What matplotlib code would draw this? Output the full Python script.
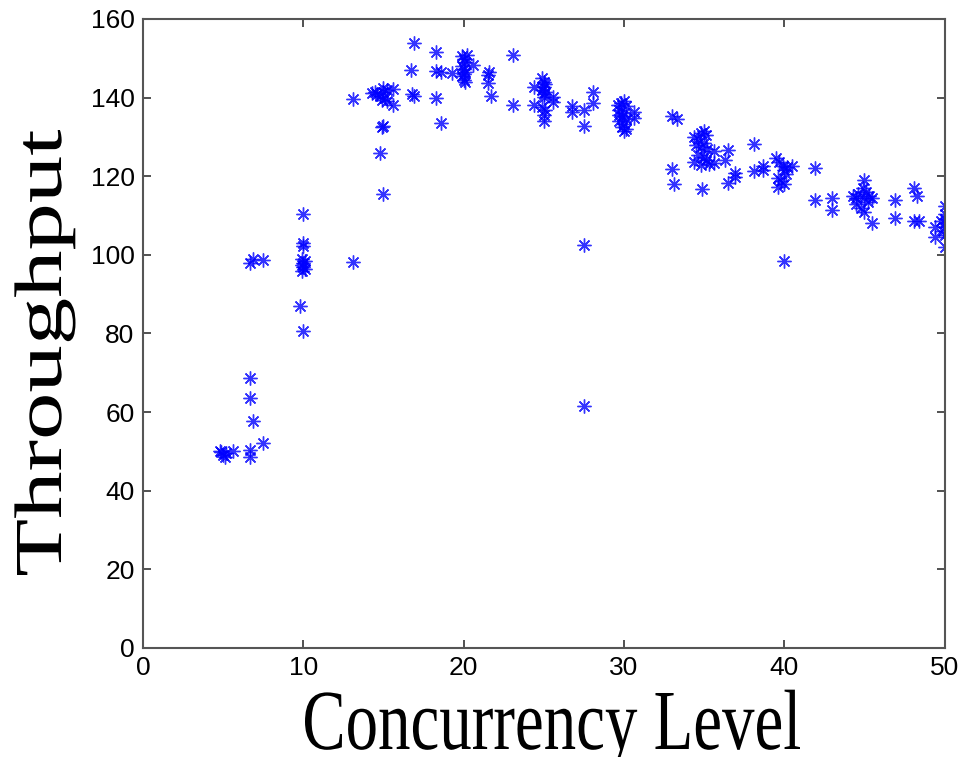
import matplotlib
matplotlib.use("Agg")
import matplotlib.pyplot as plt
from matplotlib.textpath import TextPath
from matplotlib.patches import PathPatch
from matplotlib.font_manager import FontProperties
from matplotlib.transforms import Affine2D

# Concurrency level / throughput samples
concurrency = [
    4.9, 5.0, 5.1, 5.2, 4.8, 5.6,
    6.7, 6.85, 6.7, 6.7, 6.85, 6.7, 6.7,
    7.5, 7.5,
    10.0, 10.0, 10.0, 9.9, 10.1, 9.9, 10.0, 10.1, 9.9, 10.0, 9.8, 10.0,
    13.1, 13.1,
    14.3, 14.6, 14.8, 15.0, 15.1, 14.9, 15.0, 15.2, 15.6, 15.6, 14.9, 15.0, 14.8, 15.0, 14.5, 15.2,
    16.9, 16.7, 16.8, 16.9,
    18.3, 18.3, 18.6, 18.3, 18.6,
    19.3,
    19.9, 20.0, 20.1, 19.9, 20.0, 20.1, 19.9, 20.0, 20.2, 20.0, 20.1,
    20.6,
    21.6, 21.5, 21.5, 21.7,
    23.1, 23.1,
    24.4, 24.4,
    24.9, 25.0, 25.1, 25.0, 24.9, 25.1, 25.0, 25.0, 24.9, 25.1, 25.0, 25.0,
    25.6, 25.6,
    26.75, 26.75,
    27.5, 27.5, 27.5, 27.5,
    28.1, 28.1,
    29.6, 29.8, 30.0, 30.1, 29.7, 30.0, 29.9, 30.1, 29.7, 30.0, 29.9, 30.1, 30.0, 29.7,
    30.6, 30.6,
    33.0, 33.3, 33.0, 33.1,
    34.4, 34.6, 34.8, 35.0, 35.1, 34.5, 34.8, 35.0, 35.2, 34.6, 35.0, 35.1, 34.4, 34.8, 35.3, 34.9,
    35.6, 35.6,
    36.3, 36.5, 36.5,
    36.9, 36.9,
    38.1, 38.1,
    38.7, 38.7,
    39.5, 39.7, 39.9, 40.0, 40.1, 39.6, 39.8, 40.0, 40.2, 40.5, 39.6, 40.0,
    41.9, 41.9,
    43.0, 43.0,
    44.3, 44.5, 44.6, 44.9, 45.0, 45.0, 45.1, 45.2, 44.8, 45.0, 44.5, 45.3, 45.5,
    45.5,
    46.9, 46.9,
    48.1, 48.3, 48.1, 48.4,
    49.4, 49.4,
    50.0, 50.0, 50.0, 50.0, 50.0, 49.9, 50.0, 50.0, 49.8,
]

throughput = [
    49.8, 49.2, 48.5, 49.6, 50.0, 50.2,
    98.0, 98.9, 68.6, 63.6, 57.8, 50.3, 48.6,
    98.6, 52.2,
    110.5, 103.0, 102.2, 99.0, 98.5, 97.5, 97.0, 96.3, 96.0, 98.0, 87.0, 80.7,
    139.6, 98.2,
    141.2, 141.0, 140.5, 141.5, 140.0, 139.5, 142.5, 141.8, 142.3, 138.2, 132.5, 132.8, 126.0, 115.5, 141.5, 139.0,
    154.0, 147.0, 140.8, 140.3,
    151.5, 146.8, 146.6, 140.0, 133.6,
    146.2,
    150.5, 149.8, 149.0, 148.0, 147.2, 146.5, 145.5, 144.5, 150.8, 146.0, 144.0,
    148.3,
    146.5, 145.8, 143.8, 140.3,
    150.8, 138.0,
    142.6, 138.0,
    145.0, 144.0, 143.5, 142.8, 142.0, 141.5, 141.0, 140.2, 137.5, 136.8, 135.5, 134.0,
    140.2, 138.8,
    137.8, 136.3,
    136.8, 132.8, 102.5, 61.6,
    141.3, 138.6,
    138.0, 138.5, 139.0, 137.8, 136.8, 136.0, 135.3, 134.5, 134.0, 133.3, 132.5, 132.0, 131.5, 135.5,
    136.3, 134.8,
    135.3, 134.5, 121.9, 117.9,
    130.0, 129.5, 131.0, 131.5, 130.5, 128.0, 127.5, 128.5, 127.0, 125.5, 125.0, 124.0, 123.5, 122.8, 123.0, 116.8,
    126.5, 123.3,
    124.2, 126.7, 118.3,
    120.7, 119.7,
    128.2, 121.4,
    122.7, 121.6,
    124.5, 123.5, 122.5, 121.7, 120.5, 119.5, 118.8, 118.0, 122.3, 122.7, 117.2, 98.4,
    122.0, 114.0,
    114.5, 111.5,
    115.0, 113.0, 115.5, 117.0, 119.0, 114.5, 116.0, 113.5, 112.0, 111.0, 114.5, 115.0, 114.5,
    108.0,
    114.0, 109.4,
    117.0, 115.0, 108.5, 108.5,
    107.0, 104.6,
    112.5, 110.5, 109.0, 108.0, 107.0, 106.0, 105.0, 102.0, 108.5,
]

x_ticks = [0, 10, 20, 30, 40, 50]
y_ticks = [0, 20, 40, 60, 80, 100, 120, 140, 160]

W, H = 959, 757
fig = plt.figure(figsize=(W / 100, H / 100), dpi=100)
ax = fig.add_axes([0.149, 0.144, 0.836, 0.831])

# asterisk markers in the MATLAB style
ax.plot(concurrency, throughput, linestyle="none", marker=(8, 2, 0),
        markersize=10, markeredgewidth=1.0, color="#0000ff", alpha=0.8)

ax.set_xlim(0, 50)
ax.set_ylim(0, 160)
ax.set_xticks(x_ticks)
ax.set_yticks(y_ticks)
ax.tick_params(direction="in", length=6, width=1.2, top=True, right=True,
               labelsize=19, colors="#333333", labelcolor="black", pad=6)
for lab in ax.get_xticklabels() + ax.get_yticklabels():
    lab.set_fontfamily("Liberation Sans")

for spine in ax.spines.values():
    spine.set_color("#555555")
    spine.set_linewidth(1.5)


# the original labels are stretched vertically, so draw them as scaled text paths
def stretched_label(text, length_px, cap_px, x0, y0, rotate=False):
    prop = FontProperties(family="Liberation Serif")
    path = TextPath((0, 0), text, size=1, prop=prop)
    cap = TextPath((0, 0), "T", size=1, prop=prop).get_extents().height
    ext = path.get_extents()
    tr = Affine2D().translate(-ext.x0, 0).scale(length_px / ext.width, cap_px / cap)
    if rotate:
        tr = tr.rotate_deg(90)
    # pixel coords (origin bottom left) -> figure fraction
    tr = tr.translate(x0, y0).scale(1 / W, 1 / H)
    fig.patches.append(PathPatch(tr.transform_path(path), transform=fig.transFigure,
                                 facecolor="black", edgecolor="none"))


# x label: left edge at 305 px, baseline near the image bottom
stretched_label("Concurrency Level", 495, 56, 305, H - 749)
# y label: runs from y=575 up to y=130, baseline at x=61
stretched_label("Throughput", 445, 44, 61, H - 575, rotate=True)

fig.savefig("out.png", dpi=100)
